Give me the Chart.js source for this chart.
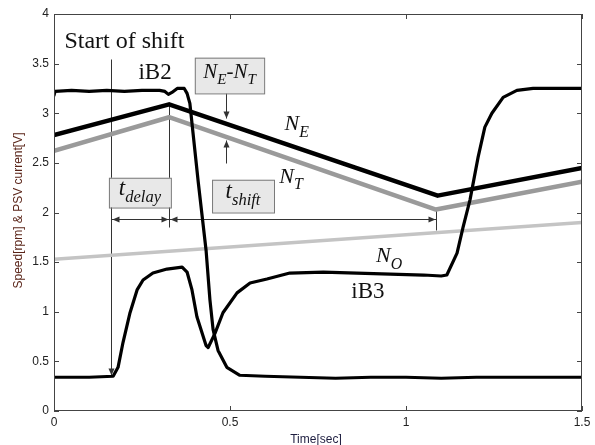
<!DOCTYPE html>
<html>
<head>
<meta charset="utf-8">
<script src="https://cdn.jsdelivr.net/npm/chart.js@4/dist/chart.umd.min.js"></script>
<style>
  html, body { margin: 0; padding: 0; background: #fff; }
  #wrap { width: 595px; height: 445px; position: relative; }
</style>
</head>
<body>
<div id="wrap"><canvas id="myChart" width="595" height="445"></canvas></div>
<script>
// Engine / turbine / output speeds (straight segments)
const tE = [0, 0.327, 1.09, 1.5];
const vE = [2.78, 3.09, 2.17, 2.45];
const tT = [0, 0.327, 1.085, 1.5];
const vT = [2.62, 2.96, 2.03, 2.31];
const tO = [0, 1.5];
const vO = [1.53, 1.90];

// clutch currents
const tB2 = [0, 0.003, 0.05, 0.1, 0.15, 0.2, 0.25, 0.3, 0.315, 0.325, 0.335, 0.35, 0.37, 0.378, 0.386, 0.41,
  0.432, 0.443, 0.452, 0.466, 0.491, 0.528, 0.6, 0.7, 0.8, 0.9, 1.0, 1.1, 1.2, 1.3, 1.4, 1.5];
const vB2 = [3.18, 3.22, 3.23, 3.22, 3.23, 3.22, 3.23, 3.23, 3.22, 3.19, 3.21, 3.25, 3.25, 3.2, 3.1, 2.3,
  1.62, 1.12, 0.82, 0.61, 0.44, 0.36, 0.35, 0.34, 0.33, 0.34, 0.34, 0.33, 0.34, 0.34, 0.34, 0.34];
const tB3 = [0, 0.1, 0.168, 0.182, 0.196, 0.216, 0.236, 0.253, 0.281, 0.321, 0.364, 0.378, 0.392, 0.406, 0.432,
  0.438, 0.457, 0.48, 0.52, 0.557, 0.605, 0.67, 0.765, 0.86, 0.955, 1.05, 1.1, 1.116, 1.145, 1.162, 1.182,
  1.205, 1.224, 1.244, 1.276, 1.315, 1.361, 1.45, 1.5];
const vB3 = [0.34, 0.34, 0.35, 0.44, 0.69, 0.99, 1.22, 1.32, 1.39, 1.43, 1.45, 1.40, 1.22, 0.95, 0.66,
  0.64, 0.78, 0.99, 1.19, 1.29, 1.33, 1.39, 1.40, 1.39, 1.38, 1.37, 1.36, 1.37, 1.59, 1.85, 2.13,
  2.56, 2.86, 3.0, 3.16, 3.23, 3.25, 3.25, 3.25];

const xTicks = [0, 0.5, 1, 1.5];
const yTicks = [0, 0.5, 1, 1.5, 2, 2.5, 3, 3.5, 4];

// annotation anchors (data units)
const tStart = 0.162, tDelayEnd = 0.327, tShiftEnd = 1.085, tDiff = 0.489;

const pts = (ts, vs) => ts.map((t, i) => ({ x: t, y: vs[i] }));

const serif = '"Liberation Serif", "Times New Roman", serif';
const sans = '"Liberation Sans", Arial, sans-serif';

// draw mixed text: segments [text, sub?, italic?]
function measure(ctx, segs, size) {
  let w = 0;
  segs.forEach(([s, sub, it]) => {
    ctx.font = (it ? 'italic ' : '') + (sub ? size * 0.72 : size) + 'px ' + serif;
    w += ctx.measureText(s).width;
  });
  return w;
}
function drawSegs(ctx, segs, x, y, size) {
  segs.forEach(([s, sub, it]) => {
    ctx.font = (it ? 'italic ' : '') + (sub ? size * 0.72 : size) + 'px ' + serif;
    ctx.fillText(s, x, sub ? y + size * 0.3 : y);
    x += ctx.measureText(s).width;
  });
}
function arrowHead(ctx, x, y, dir) {
  const L = 7, W = 3;
  ctx.beginPath();
  if (dir === 'down') { ctx.moveTo(x, y); ctx.lineTo(x - W, y - L); ctx.lineTo(x + W, y - L); }
  if (dir === 'up') { ctx.moveTo(x, y); ctx.lineTo(x - W, y + L); ctx.lineTo(x + W, y + L); }
  if (dir === 'left') { ctx.moveTo(x, y); ctx.lineTo(x + L, y - W); ctx.lineTo(x + L, y + W); }
  if (dir === 'right') { ctx.moveTo(x, y); ctx.lineTo(x - L, y - W); ctx.lineTo(x - L, y + W); }
  ctx.closePath();
  ctx.fill();
}
function box(ctx, x0, y0, x1, y1) {
  ctx.fillStyle = '#e8e8e8';
  ctx.strokeStyle = '#7a7a7a';
  ctx.lineWidth = 1;
  ctx.fillRect(x0, y0, x1 - x0, y1 - y0);
  ctx.strokeRect(x0 + 0.5, y0 + 0.5, x1 - x0, y1 - y0);
}

const frame = {
  id: 'frame',
  beforeDatasetsDraw(chart) {
    const { ctx, scales: { x, y } } = chart;
    ctx.save();
    ctx.strokeStyle = '#333';
    ctx.fillStyle = '#333';
    ctx.lineWidth = 1;
    const px = t => Math.round(x.getPixelForValue(t)) + 0.5;
    const py = v => Math.round(y.getPixelForValue(v)) + 0.5;
    ctx.beginPath();
    ctx.moveTo(px(tStart), py(3.55)); ctx.lineTo(px(tStart), py(0.36));
    ctx.moveTo(px(tDelayEnd), py(3.08)); ctx.lineTo(px(tDelayEnd), py(1.85));
    ctx.moveTo(px(tShiftEnd), py(2.03)); ctx.lineTo(px(tShiftEnd), py(1.82));
    ctx.moveTo(px(tStart), py(1.93)); ctx.lineTo(px(tShiftEnd), py(1.93));
    ctx.moveTo(px(tDiff), py(3.20)); ctx.lineTo(px(tDiff), py(2.95));
    ctx.moveTo(px(tDiff), py(2.50)); ctx.lineTo(px(tDiff), py(2.73));
    ctx.stroke();
    arrowHead(ctx, px(tStart), py(0.36), 'down');
    arrowHead(ctx, px(tStart) + 1, py(1.93), 'left');
    arrowHead(ctx, px(tDelayEnd) - 1, py(1.93), 'right');
    arrowHead(ctx, px(tDelayEnd) + 1, py(1.93), 'left');
    arrowHead(ctx, px(tShiftEnd) - 1, py(1.93), 'right');
    arrowHead(ctx, px(tDiff), py(2.95), 'down');
    arrowHead(ctx, px(tDiff), py(2.73), 'up');
    ctx.restore();
  },
  afterDraw(chart) {
    const { ctx, chartArea: a, scales: { x, y } } = chart;
    ctx.save();
    // frame + inward ticks
    ctx.strokeStyle = '#444';
    ctx.lineWidth = 1;
    ctx.strokeRect(a.left + 0.5, a.top + 0.5, a.right - a.left - 1, a.bottom - a.top - 1);
    ctx.beginPath();
    xTicks.forEach(t => {
      const p = Math.round(x.getPixelForValue(t)) + 0.5;
      ctx.moveTo(p, a.bottom); ctx.lineTo(p, a.bottom - 5);
      ctx.moveTo(p, a.top); ctx.lineTo(p, a.top + 5);
    });
    yTicks.forEach(v => {
      const p = Math.round(y.getPixelForValue(v)) + 0.5;
      ctx.moveTo(a.left, p); ctx.lineTo(a.left + 5, p);
      ctx.moveTo(a.right, p); ctx.lineTo(a.right - 5, p);
    });
    ctx.stroke();

    const px = t => x.getPixelForValue(t);
    const py = v => y.getPixelForValue(v);

    // axis titles
    ctx.font = '12px ' + sans;
    ctx.fillStyle = '#1e1e40';
    ctx.textAlign = 'center';
    ctx.textBaseline = 'alphabetic';
    ctx.fillText('Time[sec]', 316, 443);
    ctx.save();
    ctx.translate(22, py(2.02));
    ctx.rotate(-Math.PI / 2);
    ctx.fillStyle = '#5a2418';
    ctx.fillText('Speed[rpm] & PSV current[V]', 0, 0);
    ctx.restore();

    // label boxes
    ctx.textAlign = 'left';
    box(ctx, px(0.156), py(2.35), px(0.332), py(2.05));
    box(ctx, px(0.449), py(2.33), px(0.625), py(2.0));
    box(ctx, px(0.40), py(3.56), px(0.597), py(3.2));
    ctx.fillStyle = '#111';
    let segs = [['t', false, true], ['delay', true, true]];
    let w = measure(ctx, segs, 23);
    drawSegs(ctx, segs, px(0.244) - w / 2, py(2.2) + 2, 23);
    segs = [['t', false, true], ['shift', true, true]];
    w = measure(ctx, segs, 23);
    drawSegs(ctx, segs, px(0.537) - w / 2, py(2.17) + 2, 23);
    segs = [['N', false, true], ['E', true, true], ['-', false, false], ['N', false, true], ['T', true, true]];
    w = measure(ctx, segs, 21);
    drawSegs(ctx, segs, px(0.4985) - w / 2, py(3.38) + 2, 21);

    // curve labels
    drawSegs(ctx, [['N', false, true], ['E', true, true]], px(0.655), py(2.83), 22);
    drawSegs(ctx, [['N', false, true], ['T', true, true]], px(0.64), py(2.3), 22);
    drawSegs(ctx, [['N', false, true], ['O', true, true]], px(0.915), py(1.5), 22);
    ctx.textAlign = 'center';
    ctx.font = '24px ' + serif;
    ctx.fillText('Start of shift', px(0.2), py(3.66));
    ctx.font = '23px ' + serif;
    ctx.fillText('iB2', px(0.287), py(3.35));
    ctx.fillText('iB3', px(0.892), py(1.14));
    ctx.restore();
  }
};

const ctx = document.getElementById('myChart');
const myChart = new Chart(ctx, {
  type: 'line',
  data: {
    datasets: [
      { label: 'iB2', data: pts(tB2, vB2), borderColor: '#000', borderWidth: 3.2 },
      { label: 'iB3', data: pts(tB3, vB3), borderColor: '#000', borderWidth: 3.2 },
      { label: 'NE', data: pts(tE, vE), borderColor: '#000', borderWidth: 4.5 },
      { label: 'NT', data: pts(tT, vT), borderColor: '#9a9a9a', borderWidth: 4.5 },
      { label: 'NO', data: pts(tO, vO), borderColor: '#c4c4c4', borderWidth: 3.5 }
    ]
  },
  options: {
    responsive: false,
    animation: false,
    devicePixelRatio: 1,
    elements: { point: { radius: 0 }, line: { tension: 0, borderJoinStyle: 'round', borderCapStyle: 'round' } },
    layout: { padding: { top: 14, right: 13, left: 0, bottom: 0 } },
    plugins: { legend: { display: false }, tooltip: { enabled: false } },
    scales: {
      x: {
        type: 'linear', min: 0, max: 1.5,
        afterFit: s => { s.height = 34; },
        afterBuildTicks: s => { s.ticks = xTicks.map(v => ({ value: v })); },
        grid: { display: false, drawTicks: false },
        border: { display: false },
        ticks: { padding: 4, color: '#222', font: { family: sans, size: 12 }, maxRotation: 0, callback: v => String(v) }
      },
      y: {
        min: 0, max: 4,
        afterFit: s => { s.width = 54; },
        afterBuildTicks: s => { s.ticks = yTicks.map(v => ({ value: v })); },
        grid: { display: false, drawTicks: false },
        border: { display: false },
        ticks: { padding: 5, color: '#222', font: { family: sans, size: 12 }, callback: v => String(v) }
      }
    }
  },
  plugins: [frame]
});
</script>
</body>
</html>
